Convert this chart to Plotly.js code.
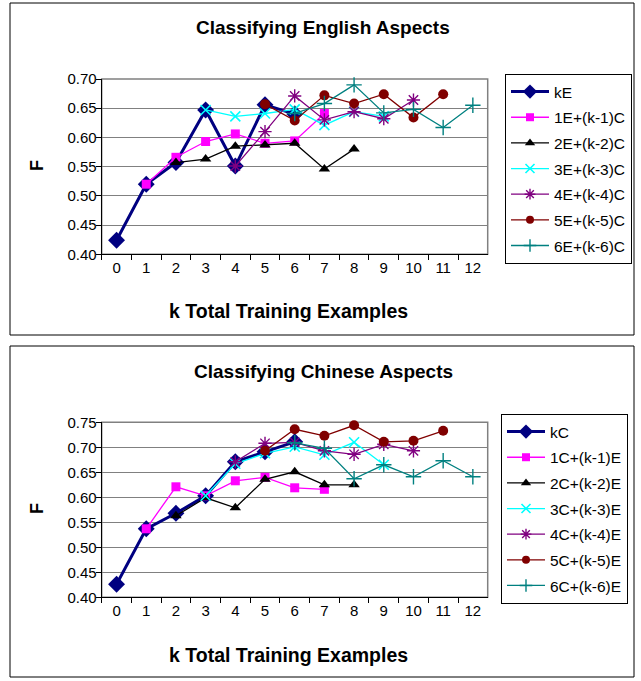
<!DOCTYPE html>
<html>
<head>
<meta charset="utf-8">
<script src="https://cdn.plot.ly/plotly-3.0.1.min.js"></script>
<style>html,body{margin:0;padding:0;background:#fff;}#chart{width:641px;height:681px;}</style>
</head>
<body>
<div id="chart"></div>
<script>
// ---- data ----
const categories = ['0','1','2','3','4','5','6','7','8','9','10','11','12'];

// English chart
const engNames = ['kE','1E+(k-1)C','2E+(k-2)C','3E+(k-3)C','4E+(k-4)C','5E+(k-5)C','6E+(k-6)C'];
const engStart = [0,1,2,3,4,5,6];
const kE  = [0.424,0.520,0.557,0.647,0.551,0.656,0.640];
const e1  = [0.520,0.566,0.593,0.606,0.590,0.594,0.641];
const e2  = [0.557,0.563,0.585,0.587,0.590,0.546,0.580];
const e3  = [0.647,0.636,0.641,0.648,0.621,0.644,0.636];
const e4  = [0.551,0.610,0.671,0.630,0.644,0.632,0.664];
const e5  = [0.657,0.629,0.672,0.658,0.674,0.634,0.674];
const e6  = [0.641,0.658,0.690,0.642,0.648,0.617,0.655];

// Chinese chart
const chnNames = ['kC','1C+(k-1)E','2C+(k-2)E','3C+(k-3)E','4C+(k-4)E','5C+(k-5)E','6C+(k-6)E'];
const chnStart = [0,1,2,3,4,5,6];
const kC  = [0.426,0.537,0.568,0.603,0.671,0.691,0.711];
const c1  = [0.537,0.621,0.603,0.633,0.640,0.619,0.616];
const c2  = [0.563,0.599,0.579,0.636,0.651,0.625,0.625];
const c3  = [0.603,0.667,0.688,0.701,0.685,0.710,0.665];
const c4  = [0.671,0.708,0.710,0.693,0.686,0.706,0.693];
const c5  = [0.693,0.736,0.723,0.744,0.711,0.713,0.733];
const c6  = [0.709,0.698,0.637,0.665,0.641,0.673,0.641];

// ---- styles ----
const styles = [
  {color:'#000080', symbol:'diamond', size:13, lsize:11, width:3, mlw:0},
  {color:'#FF00FF', symbol:'square', size:9, lsize:8, width:1.3, mlw:0},
  {color:'#000000', symbol:'triangle-up', size:10, lsize:9, width:1.3, mlw:0},
  {color:'#00FFFF', symbol:'x-thin-open', size:10, lsize:9, width:1.3, mlw:1.6},
  {color:'#800080', symbol:'asterisk-open', size:11, lsize:9, width:1.3, mlw:1.4},
  {color:'#800000', symbol:'circle', size:10, lsize:8, width:1.3, mlw:0},
  {color:'#008080', symbol:'cross-thin-open', size:11, lsize:9, width:1.3, mlw:1.4}
];

const FONT = 'Liberation Sans, Arial, sans-serif';
const W = 641, H = 681;
const px = v => v / W;
const py = v => 1 - v / H;

function makeTraces(seriesList, names, starts, xa, ya, legendId) {
  const out = [];
  seriesList.forEach((vals, i) => {
    const s = styles[i];
    out.push({
      type: 'scatter', mode: 'lines+markers',
      x: categories.slice(starts[i], starts[i] + vals.length),
      y: vals,
      name: names[i],
      xaxis: xa, yaxis: ya,
      showlegend: false,
      line: {color: s.color, width: s.width},
      marker: {symbol: s.symbol, size: s.size, color: s.color,
               line: {color: s.color, width: s.mlw}},
      cliponaxis: false
    });
  });
  // legend entries (smaller key markers, as in the original)
  seriesList.forEach((vals, i) => {
    const s = styles[i];
    out.push({
      type: 'scatter', mode: 'lines+markers',
      x: [null], y: [null],
      name: names[i],
      xaxis: xa, yaxis: ya,
      legend: legendId,
      legendgroup: legendId + i,
      line: {color: s.color, width: s.width},
      marker: {symbol: s.symbol, size: s.lsize, color: s.color,
               line: {color: s.color, width: s.mlw}}
    });
  });
  return out;
}

const traces = [
  ...makeTraces([kE,e1,e2,e3,e4,e5,e6], engNames, engStart, 'x', 'y', 'legend'),
  ...makeTraces([kC,c1,c2,c3,c4,c5,c6], chnNames, chnStart, 'x2', 'y2', 'legend2')
];

const xDomain = [px(101.7), px(487.7)];
const xAxisCommon = {
  type: 'category', categoryorder: 'array', categoryarray: categories,
  range: [-0.5, 12.5], domain: xDomain,
  tickson: 'boundaries', ticks: 'outside', ticklen: 5, tickcolor: '#000',
  showline: true, linecolor: '#000', linewidth: 1,
  showgrid: false, zeroline: false, fixedrange: true,
  tickfont: {family: FONT, size: 15, color: '#000'},
  title: {text: ''}
};
const yAxisCommon = {
  dtick: 0.05, tickformat: '.2f', ticks: 'outside', ticklen: 5, tickcolor: '#000',
  ticklabelstandoff: -4,
  showline: true, linecolor: '#000', linewidth: 1,
  showgrid: true, gridcolor: '#808080', gridwidth: 1, zeroline: false,
  tickfont: {family: FONT, size: 15, color: '#000'},
  title: {text: ''}
};

const legendCommon = {
  xanchor: 'left', yanchor: 'top',
  bordercolor: '#000', borderwidth: 1, bgcolor: '#fff',
  font: {family: FONT, size: 15.5, color: '#000'},
  tracegroupgap: 2.5, itemwidth: 38
};

const ann = (text, x, y, size, angle) => ({
  text: text, xref: 'paper', yref: 'paper', x: px(x), y: py(y),
  xanchor: 'center', yanchor: 'middle', textangle: angle || 0,
  showarrow: false, font: {family: FONT, size: size, color: '#000'}
});

const layout = {
  width: W, height: H,
  margin: {l: 0, r: 0, t: 0, b: 0},
  paper_bgcolor: '#fff', plot_bgcolor: '#fff',
  showlegend: true,
  xaxis: Object.assign({}, xAxisCommon, {anchor: 'y'}),
  yaxis: Object.assign({}, yAxisCommon, {anchor: 'x', range: [0.40, 0.70], domain: [py(254.3), py(79)]}),
  xaxis2: Object.assign({}, xAxisCommon, {anchor: 'y2'}),
  yaxis2: Object.assign({}, yAxisCommon, {anchor: 'x2', range: [0.40, 0.75], domain: [py(597.3), py(422.3)]}),
  legend: Object.assign({}, legendCommon, {x: px(505), y: py(74)}),
  legend2: Object.assign({}, legendCommon, {x: px(501), y: py(414)}),
  shapes: [
    {type: 'rect', xref: 'paper', yref: 'paper', x0: px(10), x1: px(634), y0: py(335), y1: py(3),
     line: {color: '#000', width: 1}, layer: 'below'},
    {type: 'rect', xref: 'paper', yref: 'paper', x0: px(10), x1: px(634), y0: py(677), y1: py(346),
     line: {color: '#000', width: 1}, layer: 'below'},
    {type: 'rect', xref: 'x domain', yref: 'y domain', x0: 0, x1: 1, y0: 0, y1: 1,
     line: {color: '#808080', width: 1.5}, layer: 'below'},
    {type: 'rect', xref: 'x2 domain', yref: 'y2 domain', x0: 0, x1: 1, y0: 0, y1: 1,
     line: {color: '#808080', width: 1.5}, layer: 'below'}
  ],
  annotations: [
    ann('<b>Classifying English Aspects</b>', 323, 28, 19),
    ann('<b>Classifying Chinese Aspects</b>', 323, 371, 19),
    ann('<b>k Total Training Examples</b>', 288, 311, 19.5),
    ann('<b>k Total Training Examples</b>', 288, 655, 19.5),
    ann('<b>F</b>', 37, 166, 18, -90),
    ann('<b>F</b>', 37, 509, 18, -90)
  ]
};

Plotly.newPlot('chart', traces, layout, {displayModeBar: false, staticPlot: true});
</script>
</body>
</html>
